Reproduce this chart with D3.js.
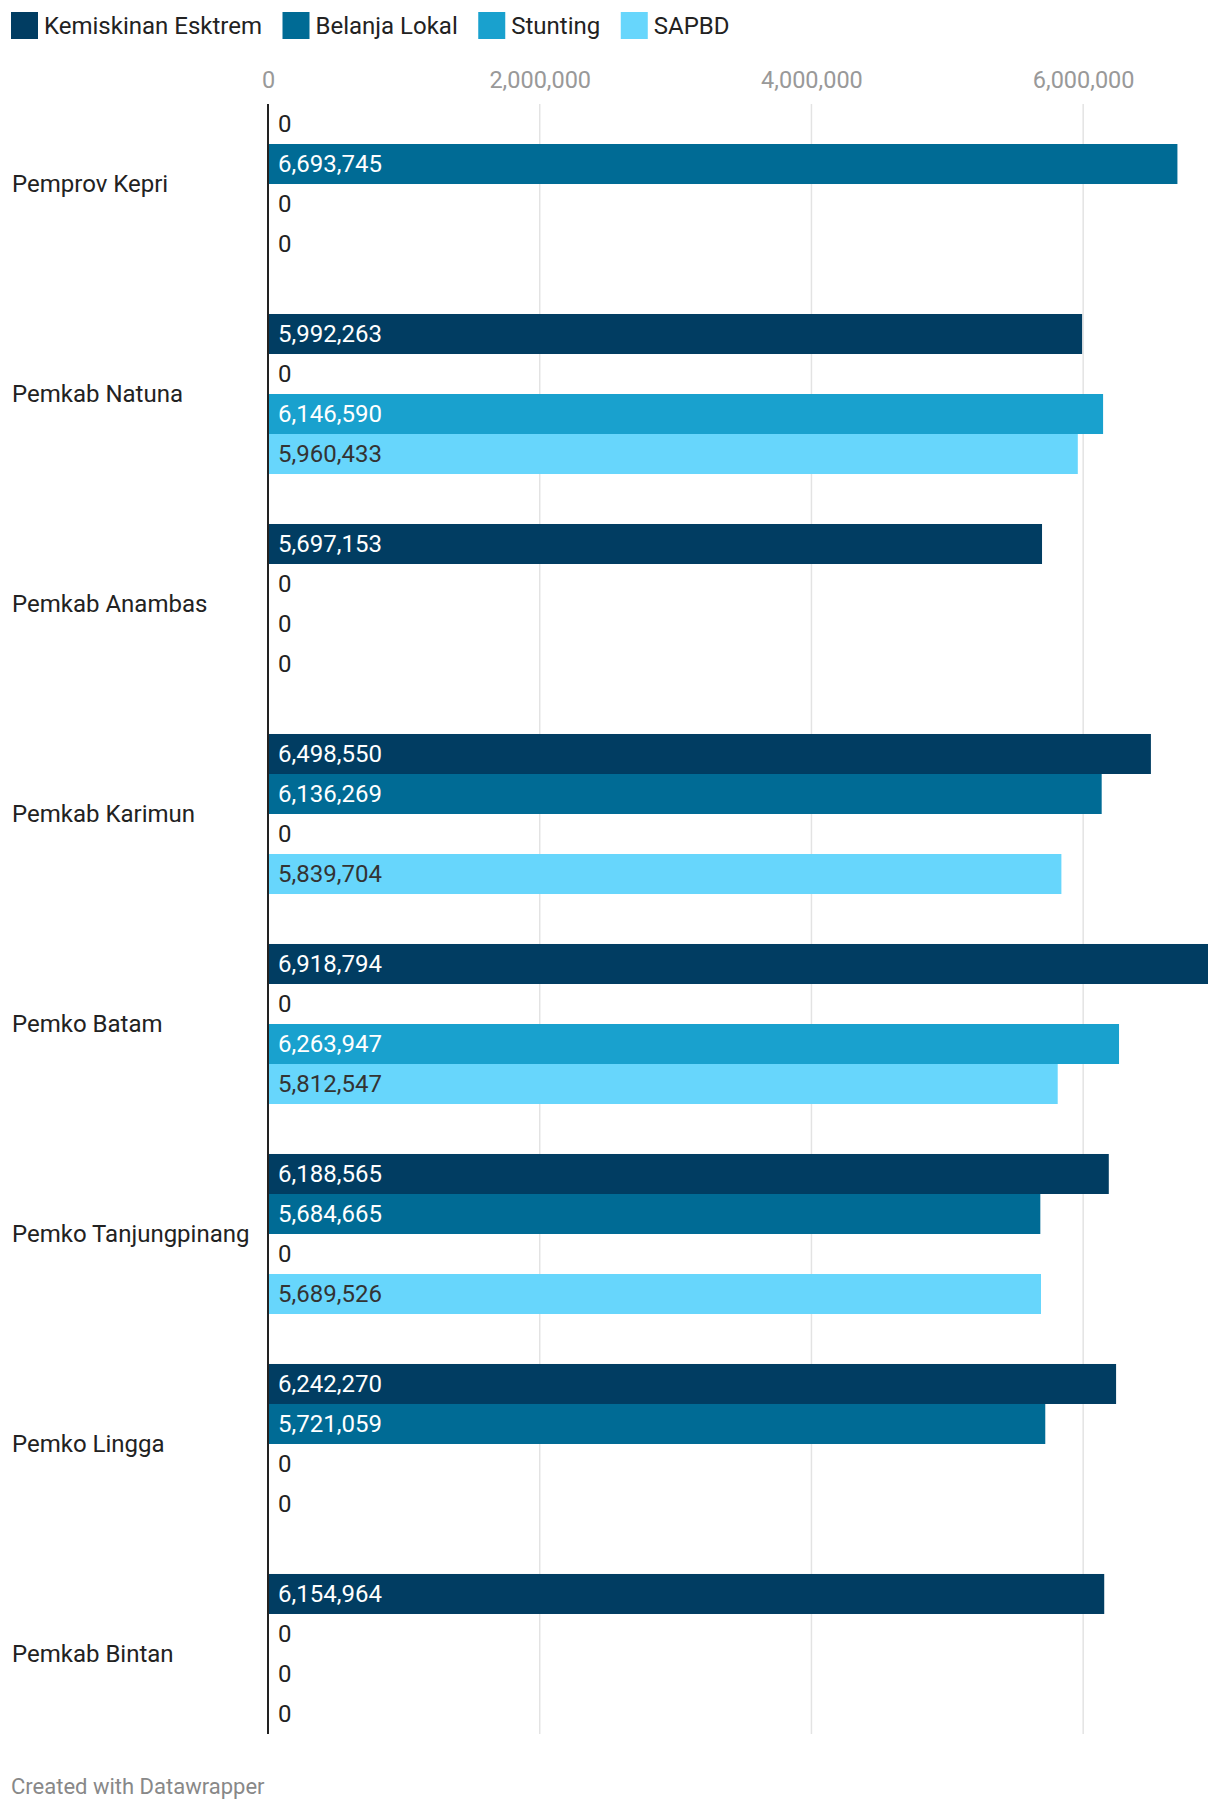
<!DOCTYPE html>
<html><head><meta charset="utf-8">
<script src="https://cdn.jsdelivr.net/npm/d3@7"></script>
<style>
body{margin:0;background:#fff;}
svg{display:block;font-family:Roboto, "Noto Sans", sans-serif;}
</style></head>
<body><div id="chart"></div>
<script>
const categories = ["Pemprov Kepri","Pemkab Natuna","Pemkab Anambas","Pemkab Karimun","Pemko Batam","Pemko Tanjungpinang","Pemko Lingga","Pemkab Bintan"];
const seriesNames = ["Kemiskinan Esktrem","Belanja Lokal","Stunting","SAPBD"];
const kemiskinan = [0,5992263,5697153,6498550,6918794,6188565,6242270,6154964];
const belanja = [6693745,0,0,6136269,0,5684665,5721059,0];
const stunting = [0,6146590,0,0,6263947,0,0,0];
const sapbd = [0,5960433,0,5839704,5812547,5689526,0,0];
const tickValues = [0,2000000,4000000,6000000];
const colors = ["#013d62","#006b95","#19a1ce","#67d6fc"];
const labelColors = ["#ffffff","#ffffff","#ffffff","#333333"];

const seriesValues = [kemiskinan, belanja, stunting, sapbd];
const W = 1220, H = 1812;
const svg = d3.select("#chart").append("svg").attr("width",W).attr("height",H);

const x = d3.scaleLinear().domain([0, d3.max(seriesValues.flat())]).range([268, 1208]);
const y = d3.scaleBand().domain(categories).range([104, 1734]).paddingInner(0.238).paddingOuter(0);
const yi = d3.scaleBand().domain(seriesNames).range([0, y.bandwidth()]).padding(0);

// legend
const legend = svg.append("g");
let lx = 11;
seriesNames.forEach((s,i)=>{
  const g = legend.append("g").attr("transform",`translate(${lx},0)`);
  g.append("rect").attr("x",0).attr("y",12).attr("width",27).attr("height",27).attr("fill",colors[i]);
  const t = g.append("text").attr("x",33).attr("y",34).attr("font-size",24).attr("fill","#222").text(s);
  lx += 33 + t.node().getComputedTextLength() + 20.5;
});

// grid + tick labels
const axis = d3.axisTop(x).tickValues(tickValues).tickSize(0).tickFormat(d3.format(","));
const ax = svg.append("g").attr("transform","translate(0,80)").call(axis);
ax.select(".domain").remove();
ax.selectAll("text").attr("font-size",23.5).attr("fill","#999").attr("font-family","Roboto, sans-serif").attr("dy","0.35em").attr("y",0);

svg.append("g").selectAll("line").data(tickValues.filter(d=>d>0)).join("line")
  .attr("x1",d=>x(d)).attr("x2",d=>x(d)).attr("y1",104).attr("y2",1734)
  .attr("stroke","#e3e3e3").attr("stroke-width",1.5);

// bars
const rows = [];
categories.forEach((c,ci)=>seriesNames.forEach((s,si)=>rows.push({c,s,si,v:seriesValues[si][ci]})));
const gBars = svg.append("g");
gBars.selectAll("rect").data(rows.filter(r=>r.v>0)).join("rect")
  .attr("x",x(0)).attr("y",r=>y(r.c)+yi(r.s)).attr("width",r=>x(r.v)-x(0)).attr("height",yi.bandwidth())
  .attr("fill",r=>colors[r.si]);
gBars.selectAll("text").data(rows).join("text")
  .attr("x",x(0)+10).attr("y",r=>y(r.c)+yi(r.s)+yi.bandwidth()/2).attr("dy","0.35em")
  .attr("font-size",24).attr("fill",r=>r.v>0?labelColors[r.si]:"#222")
  .text(r=>d3.format(",")(r.v));

// zero line
svg.append("line").attr("x1",x(0)).attr("x2",x(0)).attr("y1",104).attr("y2",1734).attr("stroke","#222").attr("stroke-width",2);

// category labels
svg.append("g").selectAll("text").data(categories).join("text")
  .attr("x",12).attr("y",d=>y(d)+y.bandwidth()/2).attr("dy","0.35em")
  .attr("font-size",24).attr("fill","#222").text(d=>d);

// footer
svg.append("text").attr("x",11).attr("y",1794).attr("font-size",22).attr("fill","#888").text("Created with Datawrapper");
</script></body></html>
